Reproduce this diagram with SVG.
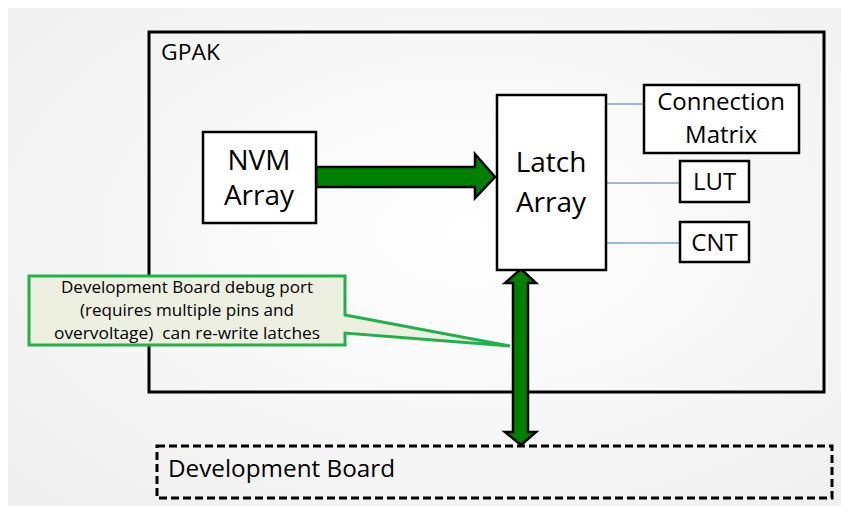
<svg xmlns="http://www.w3.org/2000/svg" width="841" height="506" viewBox="0 0 841 506">
<defs>
<radialGradient id="bg" cx="0.55" cy="0.45" r="0.75">
<stop offset="0" stop-color="#ffffff"/>
<stop offset="1" stop-color="#efefef"/>
</radialGradient>
<style>
.box{fill:#ffffff;stroke:#000000;stroke-width:2.5}
.t{font-family:"Open Sans","Liberation Sans",sans-serif;fill:#000000}
.link{stroke:#4472c4;stroke-width:1;fill:none}
.garrow{fill:#008000;stroke:#000000;stroke-width:2.5;stroke-linejoin:miter}
</style>
</defs>
<rect x="0" y="0" width="841" height="506" fill="#ffffff"/>
<rect x="8" y="8" width="833" height="498" fill="url(#bg)"/>

<g id="gpak">
<rect x="149" y="32" width="675" height="360" fill="none" stroke="#000000" stroke-width="3"/>
<text class="t" x="161" y="60" font-size="22" textLength="59" lengthAdjust="spacingAndGlyphs">GPAK</text>
</g>

<g id="connectors">
<line class="link" x1="606" y1="104" x2="644" y2="104"/>
<line class="link" x1="606" y1="183" x2="680" y2="183"/>
<line class="link" x1="606" y1="243" x2="680" y2="243"/>
<path class="garrow" d="M316,167 L475,167 L475,154 L495,177 L475,198 L475,187 L316,187 Z"/>
<path class="garrow" d="M521,269 L536,283 L528,283 L528,432 L536,432 L521,445 L505,432 L513,432 L513,283 L505,283 Z"/>
</g>

<g id="nvm">
<rect class="box" x="203" y="132" width="113" height="91"/>
<text class="t" x="259" y="170" font-size="28" text-anchor="middle">NVM</text>
<text class="t" x="259" y="205" font-size="28" text-anchor="middle">Array</text>
</g>

<g id="latch">
<rect class="box" x="497" y="95" width="109" height="175"/>
<text class="t" x="551" y="172" font-size="28" text-anchor="middle">Latch</text>
<text class="t" x="551" y="212" font-size="28" text-anchor="middle">Array</text>
</g>

<g id="matrix">
<rect class="box" x="644" y="85" width="155" height="68"/>
<text class="t" x="721" y="110" font-size="24" text-anchor="middle">Connection</text>
<text class="t" x="721" y="143" font-size="24" text-anchor="middle">Matrix</text>
</g>

<g id="lut">
<rect class="box" x="680" y="161" width="69" height="41"/>
<text class="t" x="714.5" y="190" font-size="24" text-anchor="middle">LUT</text>
</g>

<g id="cnt">
<rect class="box" x="680" y="222" width="69" height="40"/>
<text class="t" x="714.5" y="251" font-size="24" text-anchor="middle">CNT</text>
</g>

<g id="callout">
<path d="M29,276 L345,276 L345,315 L510,346 L345,333 L345,345 L29,345 Z" fill="#edf0e0" stroke="#22b04b" stroke-width="3" stroke-linejoin="miter"/>
<text class="t" x="187" y="293" font-size="16.5" text-anchor="middle" textLength="252" lengthAdjust="spacingAndGlyphs">Development Board debug port</text>
<text class="t" x="187" y="316" font-size="16.5" text-anchor="middle" textLength="214" lengthAdjust="spacingAndGlyphs">(requires multiple pins and</text>
<text class="t" x="187" y="339" font-size="16.5" text-anchor="middle" textLength="266" lengthAdjust="spacingAndGlyphs" xml:space="preserve">overvoltage)  can re-write latches</text>
</g>

<g id="devboard">
<rect x="157" y="446" width="675" height="52" fill="none" stroke="#000000" stroke-width="3" stroke-dasharray="8,4"/>
<text class="t" x="168" y="477" font-size="23.5" textLength="227" lengthAdjust="spacingAndGlyphs">Development Board</text>
</g>
</svg>
